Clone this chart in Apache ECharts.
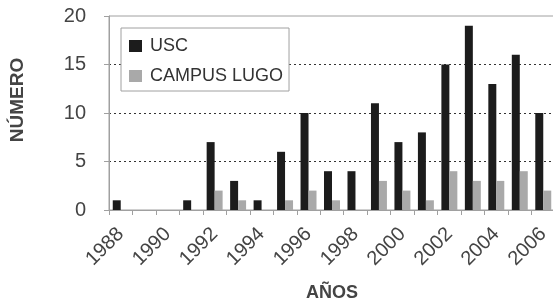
<!DOCTYPE html>
<html><head><meta charset="utf-8">
<script src="https://cdn.jsdelivr.net/npm/echarts@6/dist/echarts.min.js"></script>
<style>html,body{margin:0;padding:0;background:#fff}#c{width:553px;height:303px}</style>
</head><body><div id="c"></div>
<script>
const years = ['1988','1989','1990','1991','1992','1993','1994','1995','1996','1997','1998','1999','2000','2001','2002','2003','2004','2005','2006'];
const usc =   [1,0,0,1,7,3,1,6,10,4,4,11,7,8,15,19,13,16,10];
const lugo =  [0,0,0,0,2,1,0,1,2,1,0,3,2,1,4,3,3,4,2];
const yTicks = [0,5,10,15,20];

const font = '"Liberation Sans", Arial, sans-serif';
const chart = echarts.init(document.getElementById('c'), null, {renderer:'canvas'});
chart.setOption({
  animation:false,
  backgroundColor:'#fff',
  textStyle:{fontFamily:font},
  grid:{left:109, top:16, right:-2, bottom:93, containLabel:false, outerBoundsMode:'none',
    show:true, borderColor:'#a0a0a0', borderWidth:1, backgroundColor:'transparent'},
  legend:{
    left:121, top:28, orient:'vertical', icon:'rect', itemWidth:13, itemHeight:12, itemGap:12,
    padding:[9,6,6,8], backgroundColor:'#fff', borderColor:'#a0a0a0', borderWidth:1, borderRadius:0,
    textStyle:{fontFamily:font, fontSize:18, color:'#333', padding:[0,0,0,3]},
    data:['USC','CAMPUS LUGO']
  },
  xAxis:{
    type:'category', data:years,
    name:'AÑOS', nameLocation:'middle', nameGap:74,
    nameTextStyle:{fontFamily:font, fontSize:18, fontWeight:'bold', color:'#444'},
    axisLine:{lineStyle:{color:'#a0a0a0', width:1}},
    axisTick:{show:true, interval:0, length:5, lineStyle:{color:'#a0a0a0'}},
    axisLabel:{interval:1, rotate:45, margin:21, fontFamily:font, fontSize:20, color:'#444'},
    splitLine:{show:false}
  },
  yAxis:{
    type:'value', min:0, max:20, interval:5,
    name:'NÚMERO', nameLocation:'middle', nameGap:82,
    nameTextStyle:{fontFamily:font, fontSize:19, fontWeight:'bold', color:'#444', padding:[0,0,0,26]},
    axisLine:{show:true, lineStyle:{color:'#a0a0a0', width:1}},
    axisTick:{show:true, length:5, lineStyle:{color:'#a0a0a0'}},
    axisLabel:{margin:23, fontFamily:font, fontSize:20, color:'#444',
      formatter: v => yTicks.includes(v) ? String(v) : ''},
    splitLine:{show:true, showMinLine:false, showMaxLine:false, lineStyle:{color:'#333', type:[2,3], width:1}}
  },
  series:[
    {name:'USC', type:'bar', data:usc, barGap:'0%', barCategoryGap:'32%', itemStyle:{color:'#1c1c1c'}},
    {name:'CAMPUS LUGO', type:'bar', data:lugo, barGap:'0%', barCategoryGap:'32%', itemStyle:{color:'#a9a9a9'}}
  ]
});
</script></body></html>
